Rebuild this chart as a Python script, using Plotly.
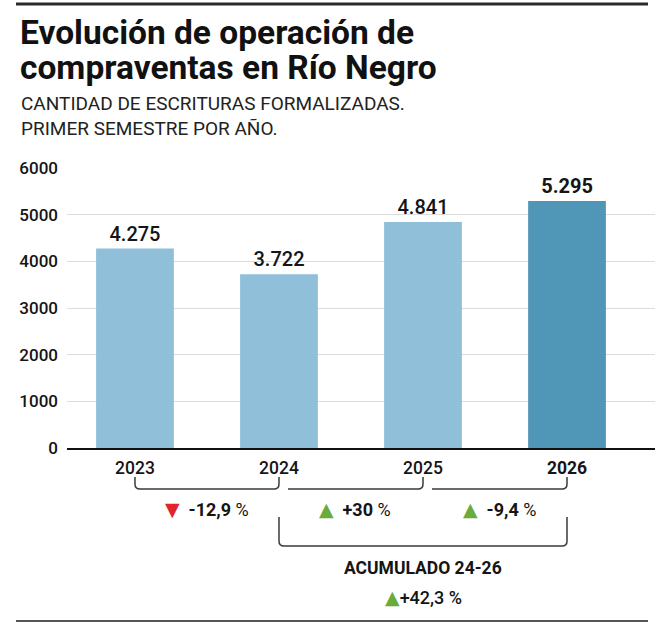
import plotly.graph_objects as go

# ---- data ----
years = ["2023", "2024", "2025", "2026"]
values = [4275, 3722, 4841, 5295]
bar_colors = ["#8fbfd9", "#8fbfd9", "#8fbfd9", "#5097b7"]
highlight_year = "2026"
y_ticks = [0, 1000, 2000, 3000, 4000, 5000, 6000]
change_labels = ["-12,9", "+30", "-9,4"]
change_up = [False, True, True]
acum_title = "ACUMULADO 24-26"
acum_label = "+42,3"
title_lines = ["Evolución de operación de", "compraventas en Río Negro"]
subtitle_lines = ["CANTIDAD DE ESCRITURAS FORMALIZADAS.", "PRIMER SEMESTRE POR AÑO."]

# ---- layout helpers (pixel coords of the page; body margin removed below) ----
FONT = "Roboto"
W, H = 663, 624
PL, PR, PT, PB = 67, 655, 168, 448  # plot area in page pixels
ML, MR, MT, MB = PL, W - PR, PT, H - PB
PW, PH = PR - PL, PB - PT
XR = [-0.472, 3.611]
UX = PW / (XR[1] - XR[0])
RED, GREEN, INK = "#e0262b", "#6aab3a", "#151515"


def py(p):
    return (PB - p) / PH


def pxx(p):
    return (p - PL) / PW


xs = list(range(len(years)))
labels = [f"{v:,}".replace(",", ".") for v in values]
bar_text = [f"<b>{l}</b>" if y == highlight_year else l for l, y in zip(labels, years)]
tick_text = [f"<b>{y}</b>" if y == highlight_year else y for y in years]

fig = go.Figure(
    go.Bar(
        x=xs,
        y=values,
        width=0.54,
        marker=dict(color=bar_colors, line=dict(width=0)),
        text=bar_text,
        textposition="outside",
        textfont=dict(family=FONT, size=20, color=INK, weight=500),
        cliponaxis=False,
        hoverinfo="skip",
    )
)


def bracket(xa, xb, top, bot, left=True, right=True):
    rx, ry = 5 / UX, 5 / PH
    yt, yb = py(top), py(bot)
    if left:
        p = f"M {xa},{yt} L {xa},{yb + ry} Q {xa},{yb} {xa + rx},{yb}"
    else:
        p = f"M {xa},{yb}"
    if right:
        p += f" L {xb - rx},{yb} Q {xb},{yb} {xb},{yb + ry} L {xb},{yt}"
    else:
        p += f" L {xb},{yb}"
    return dict(type="path", path=p, xref="x", yref="paper",
                line=dict(color="#3a3a3a", width=1.5))


gap = 9 / UX
shapes = [
    bracket(0, 1, 477, 489),
    bracket(1 + gap, 2, 477, 489, left=False),
    bracket(2 + gap, 3, 477, 489, left=False),
    bracket(1, 3, 517, 546),
    dict(type="line", xref="paper", yref="paper", x0=pxx(16), x1=pxx(648),
         y0=py(4), y1=py(4), line=dict(color="#2a2a2a", width=3)),
    dict(type="line", xref="paper", yref="paper", x0=pxx(16), x1=pxx(648),
         y0=py(621), y1=py(621), line=dict(color="#555555", width=2)),
]


def tri(up, size=19):
    return (f"<span style='color:{GREEN if up else RED};font-family:DejaVu Sans;"
            f"font-size:{size}px'>{'▲' if up else '▼'}</span>")


annotations = []
mids = [0.5, 1.5 + gap / 2, 2.5 + gap / 2]
for m, lab, up in zip(mids, change_labels, change_up):
    annotations.append(dict(
        x=m, y=py(509), xref="x", yref="paper", showarrow=False,
        xanchor="center", yanchor="middle",
        text=f"{tri(up)}  <b>{lab}</b> %",
        font=dict(family=FONT, size=18, color=INK),
    ))
annotations.append(dict(
    x=2, y=py(568), xref="x", yref="paper", showarrow=False,
    xanchor="center", yanchor="middle",
    text=f"<b>{acum_title}</b>", font=dict(family=FONT, size=17.5, color=INK),
))
annotations.append(dict(
    x=2, y=py(597), xref="x", yref="paper", showarrow=False,
    xanchor="center", yanchor="middle",
    text=f"{tri(True)}{acum_label} %",
    font=dict(family=FONT, size=18, color=INK, weight=500),
))
for line, yc in zip(title_lines, [32, 68]):
    annotations.append(dict(
        x=pxx(18), y=py(yc), xref="paper", yref="paper", xanchor="left", yanchor="middle",
        showarrow=False, text=f"<b>{line}</b>",
        font=dict(family=FONT, size=33.5, color="#111111"),
    ))
for line, yc in zip(subtitle_lines, [104, 128]):
    annotations.append(dict(
        x=pxx(19), y=py(yc), xref="paper", yref="paper", xanchor="left", yanchor="middle",
        showarrow=False, text=line,
        font=dict(family=FONT, size=19, color="#222222"),
    ))

fig.update_layout(
    width=W, height=H,
    margin=dict(l=ML, r=MR, t=MT, b=MB),
    paper_bgcolor="white", plot_bgcolor="white",
    showlegend=False,
    xaxis=dict(range=XR, tickvals=xs, ticktext=tick_text, showgrid=False, zeroline=False,
               showline=True, linecolor="#111111", linewidth=2, ticks="",
               tickfont=dict(family=FONT, size=17.5, color=INK, weight=500),
               ticklabelstandoff=3, fixedrange=True),
    yaxis=dict(range=[0, 6000], tickvals=y_ticks, showgrid=True, gridcolor="#dcdcdc",
               gridwidth=1, zeroline=False, showline=False, ticks="",
               tickfont=dict(family=FONT, size=17, color=INK, weight=500),
               ticklabelstandoff=8, fixedrange=True),
    shapes=shapes,
    annotations=annotations,
    separators=",.",
)

fig.write_html("out.html", config={"displayModeBar": False},
               post_script="document.body.style.margin='0';")
